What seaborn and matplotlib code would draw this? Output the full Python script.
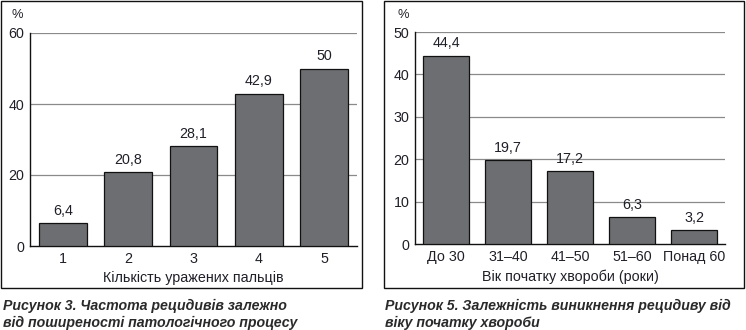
import matplotlib
matplotlib.use("Agg")
import matplotlib.pyplot as plt
from matplotlib.patches import Rectangle
import seaborn as sns
import pandas as pd

sns.set_theme(style="white")
plt.rcParams["font.family"] = ["Liberation Sans", "DejaVu Sans"]

# Figure 3: relapse rate by number of affected fingers
fingers = ["1", "2", "3", "4", "5"]
fingers_pct = [6.4, 20.8, 28.1, 42.9, 50]

# Figure 5: relapse rate by age at disease onset
age_groups = ["До 30", "31–40", "41–50", "51–60", "Понад 60"]
age_pct = [44.4, 19.7, 17.2, 6.3, 3.2]

W, H = 746, 330
TEXT = "#1f1f28"
BAR = "#6d6e71"
GRID = "#8a8a8a"
FS = 10.3

fig = plt.figure(figsize=(W / 100, H / 100), dpi=100)
fig.patch.set_facecolor("white")


def px_axes(x0, x1, ytop, ybot):
    return fig.add_axes([x0 / W, (H - ybot) / H, (x1 - x0) / W, (ybot - ytop) / H])


def frame(x0, x1, y0, y1):
    fig.patches.append(Rectangle((x0 / W, (H - y1) / H), (x1 - x0) / W, (y1 - y0) / H,
                                 transform=fig.transFigure, fill=False,
                                 edgecolor="#111111", linewidth=1.0))


def draw_panel(ax, cats, vals, ymax, step, xlabel):
    df = pd.DataFrame({"cat": cats, "val": vals})
    sns.barplot(data=df, x="cat", y="val", order=cats, color=BAR, saturation=1,
                width=0.73, edgecolor="#111111", linewidth=0.9, ax=ax, zorder=3)
    ax.set_xlim(-0.5, len(cats) - 0.5)
    ax.set_ylim(0, ymax)
    ax.set_yticks(range(0, ymax + 1, step))
    ax.set_xticks([i - 0.5 for i in range(len(cats) + 1)], minor=True)
    ax.tick_params(axis="x", which="minor", length=4, width=0.9, color="#111111", direction="out")
    ax.tick_params(axis="x", which="major", length=0, pad=4, labelsize=FS, labelcolor=TEXT)
    ax.tick_params(axis="y", length=0, pad=4, labelsize=FS, labelcolor=TEXT)
    for s in ["top", "right"]:
        ax.spines[s].set_visible(False)
    for s in ["left", "bottom"]:
        ax.spines[s].set_color("#111111")
        ax.spines[s].set_linewidth(1.0)
    for t in range(step, ymax + 1, step):
        ax.axhline(t, color=GRID, linewidth=0.9, zorder=1)
    ax.set_xlabel(xlabel, fontsize=FS, color=TEXT, labelpad=4)
    ax.set_ylabel("")
    labels = [f"{v:g}".replace(".", ",") for v in vals]
    ax.bar_label(ax.containers[0], labels=labels, padding=4, fontsize=FS, color=TEXT)


ax1 = px_axes(30, 357, 33, 246)
draw_panel(ax1, fingers, fingers_pct, 60, 20, "Кількість уражених пальців")

ax2 = px_axes(415, 725, 32, 244)
draw_panel(ax2, age_groups, age_pct, 50, 10, "Вік початку хвороби (роки)")

frame(1, 362, 1, 288)
frame(384, 744, 1, 288)

fig.text(11 / W, 1 - 15 / H, "%", fontsize=FS - 1, color=TEXT, va="center", ha="left")
fig.text(397 / W, 1 - 15 / H, "%", fontsize=FS - 1, color=TEXT, va="center", ha="left")

CAP = dict(fontsize=10.2, fontweight="bold", fontstyle="italic", color="#2a2a2a",
           family=["Liberation Sans Narrow", "Liberation Sans", "DejaVu Sans"],
           va="baseline", ha="left")
fig.text(3 / W, 1 - 310 / H, "Рисунок 3. Частота рецидивів залежно", **CAP)
fig.text(3 / W, 1 - 327 / H, "від поширеності патологічного процесу", **CAP)
fig.text(385 / W, 1 - 310 / H, "Рисунок 5. Залежність виникнення рецидиву від", **CAP)
fig.text(385 / W, 1 - 327 / H, "віку початку хвороби", **CAP)

fig.savefig("out.png", dpi=100, facecolor="white")
